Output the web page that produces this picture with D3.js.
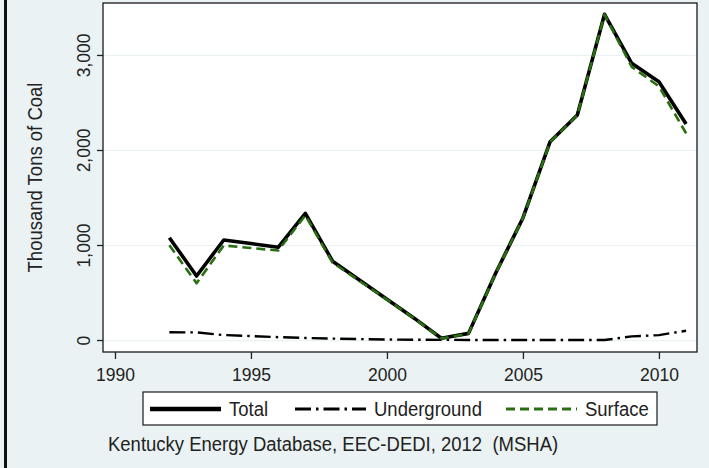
<!DOCTYPE html>
<html>
<head>
<meta charset="utf-8">
<script src="https://cdn.jsdelivr.net/npm/d3@7"></script>
<style>
  body { margin: 0; background: #eaf2f3; }
  svg { display: block; font-family: "Liberation Sans", Arial, sans-serif; }
  text { white-space: pre; }
  .tick text { fill: #222; font-size: 17.5px; }
</style>
</head>
<body>
<svg id="chart"></svg>
<script>
// coal production, thousand tons
const years = [1992, 1993, 1994, 1995, 1996, 1997, 1998, 1999, 2000, 2001,
               2002, 2003, 2004, 2005, 2006, 2007, 2008, 2009, 2010, 2011];
const total = [1077, 674, 1053, 1015, 976, 1333, 830, 630, 430, 230,
               18, 70, 705, 1285, 2087, 2368, 3428, 2912, 2719, 2274];
const underground = [82, 80, 52, 42, 30, 22, 15, 10, 5, 3,
                     2, 1, 0, 0, 0, 0, 0, 38, 52, 98];
const surface = [998, 598, 996, 968, 942, 1312, 815, 620, 425, 228,
                 16, 68, 703, 1283, 2085, 2366, 3425, 2875, 2670, 2175];
const xTicks = [1990, 1995, 2000, 2005, 2010];
const yTicks = [0, 1000, 2000, 3000];
const seriesNames = ['Total', 'Underground', 'Surface'];

const TALL = 1.1; // glyphs in the reference look a bit stretched vertically

class CoalLine {

  constructor(_config) {
    this.config = {
      parentElement: _config.parentElement,
      containerWidth: _config.containerWidth || 709,
      containerHeight: _config.containerHeight || 468,
      margin: { top: 3, bottom: 116, right: 12, left: 103 }
    };
    this.initVis();
  }

  initVis() {
    let vis = this;
    const m = vis.config.margin;
    vis.width = vis.config.containerWidth - m.left - m.right;
    vis.height = vis.config.containerHeight - m.top - m.bottom;

    vis.svg = d3.select(vis.config.parentElement)
        .attr('width', vis.config.containerWidth)
        .attr('height', vis.config.containerHeight);

    vis.svg.append('rect')
        .attr('width', vis.config.containerWidth)
        .attr('height', vis.config.containerHeight)
        .attr('fill', '#eaf2f3');

    // dark bar down the left edge
    vis.svg.append('rect')
        .attr('x', 4).attr('y', 0)
        .attr('width', 3).attr('height', vis.config.containerHeight)
        .attr('fill', '#111');

    vis.xScale = d3.scaleLinear()
        .domain([1989.56, 2011.4])
        .range([0, vis.width]);

    vis.yScale = d3.scaleLinear()
        .domain([-126, 3547])
        .range([vis.height, 0]);

    vis.chart = vis.svg.append('g')
        .attr('transform', `translate(${m.left},${m.top})`);

    vis.chart.append('rect')
        .attr('width', vis.width)
        .attr('height', vis.height)
        .attr('fill', '#fff');

    // grid
    vis.chart.append('g')
        .call(d3.axisLeft(vis.yScale).tickValues(yTicks).tickSize(-vis.width).tickFormat(''))
        .call(g => g.select('.domain').remove())
        .call(g => g.selectAll('line').attr('stroke', '#eaf2f3').attr('stroke-width', 1.2));

    vis.chart.append('rect')
        .attr('width', vis.width)
        .attr('height', vis.height)
        .attr('fill', 'none')
        .attr('stroke', '#1a1a1a')
        .attr('stroke-width', 1.3);

    vis.xAxis = d3.axisBottom(vis.xScale)
        .tickValues(xTicks)
        .tickFormat(d3.format('d'))
        .tickSizeOuter(0)
        .tickSize(7);

    vis.yAxis = d3.axisLeft(vis.yScale)
        .tickValues(yTicks)
        .tickFormat(d3.format(','))
        .tickSizeOuter(0)
        .tickSize(6);

    vis.xAxisG = vis.chart.append('g')
        .attr('class', 'axis x-axis')
        .attr('transform', `translate(0,${vis.height})`);

    vis.yAxisG = vis.chart.append('g')
        .attr('class', 'axis y-axis');

    vis.svg.append('text')
        .attr('transform', `translate(41.5,${m.top + vis.height / 2}) rotate(-90) scale(1,${TALL})`)
        .attr('text-anchor', 'middle')
        .attr('font-size', 18.5)
        .attr('fill', '#222')
        .text('Thousand Tons of Coal');

    vis.svg.append('text')
        .attr('transform', `translate(108,451) scale(1,${TALL})`)
        .attr('font-size', 18.5)
        .attr('fill', '#222')
        .text('Kentucky Energy Database, EEC-DEDI, 2012  (MSHA)');

    vis.updateVis();
  }

  updateVis() {
    let vis = this;
    vis.series = [
      { name: seriesNames[0], values: total, color: '#000', width: 3.6, dash: null },
      { name: seriesNames[1], values: underground, color: '#000', width: 2.4, dash: '16,5,2.5,5' },
      { name: seriesNames[2], values: surface, color: '#2a6e12', width: 2.6, dash: '9,5' }
    ];
    vis.line = d3.line()
        .x((d, i) => vis.xScale(years[i]))
        .y(d => vis.yScale(d));
    vis.renderVis();
  }

  renderVis() {
    let vis = this;

    vis.chart.selectAll('.chart-line')
        .data(vis.series)
      .join('path')
        .attr('class', 'chart-line')
        .attr('fill', 'none')
        .attr('stroke', d => d.color)
        .attr('stroke-width', d => d.width)
        .attr('stroke-dasharray', d => d.dash)
        .attr('stroke-linejoin', 'round')
        .attr('d', d => vis.line(d.values));

    vis.xAxisG.call(vis.xAxis)
        .call(g => g.select('.domain').remove())
        .call(g => g.selectAll('.tick line').attr('stroke', '#222').attr('stroke-width', 1.3))
        .call(g => g.selectAll('.tick text')
            .attr('y', null).attr('dy', null)
            .attr('transform', `translate(0,29) scale(1,${TALL})`));

    vis.yAxisG.call(vis.yAxis)
        .call(g => g.select('.domain').remove())
        .call(g => g.selectAll('.tick line').attr('stroke', '#222').attr('stroke-width', 1.3))
        .call(g => g.selectAll('.tick text')
            .attr('x', null).attr('dy', null)
            .attr('text-anchor', 'middle')
            .attr('transform', `translate(-13.5,0) rotate(-90) scale(1,${TALL})`));

    // legend
    const lg = vis.svg.append('g').attr('class', 'legend');
    lg.append('rect')
        .attr('x', 143).attr('y', 392)
        .attr('width', 514).attr('height', 33)
        .attr('fill', '#fff')
        .attr('stroke', '#1a1a1a')
        .attr('stroke-width', 1.2);
    const keyX = [150, 295, 506];
    vis.series.forEach((s, i) => {
      lg.append('line')
          .attr('x1', keyX[i]).attr('x2', keyX[i] + 71)
          .attr('y1', 409).attr('y2', 409)
          .attr('stroke', s.color)
          .attr('stroke-width', i === 0 ? 4.4 : s.width + 0.4)
          .attr('stroke-dasharray', s.dash);
      lg.append('text')
          .attr('transform', `translate(${keyX[i] + 79},415.5) scale(1,${TALL})`)
          .attr('font-size', 18.5)
          .attr('fill', '#222')
          .text(s.name);
    });
  }
}

new CoalLine({ parentElement: '#chart' });
</script>
</body>
</html>
